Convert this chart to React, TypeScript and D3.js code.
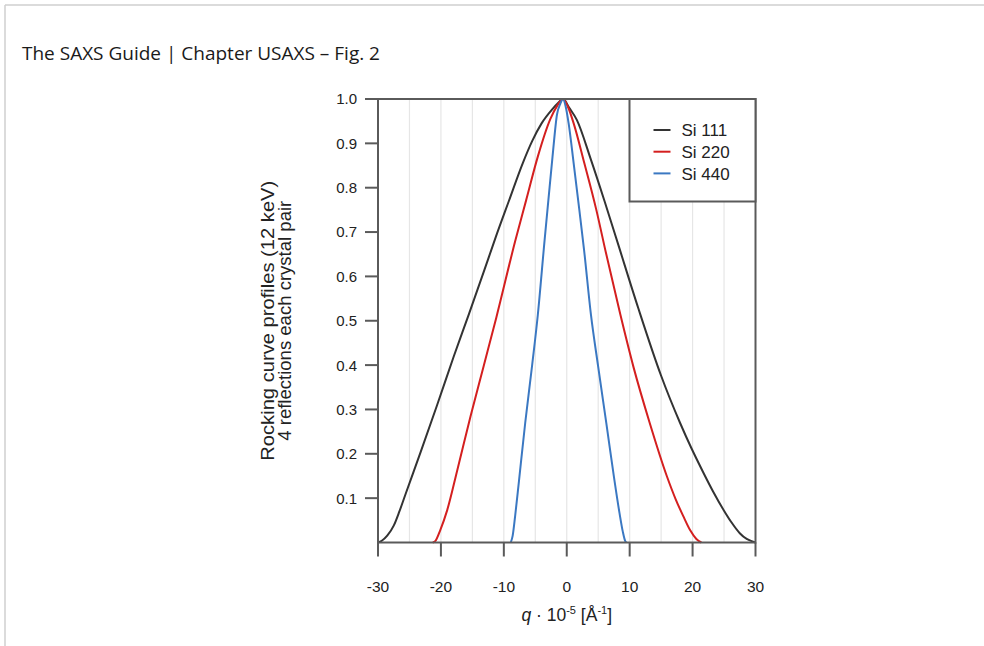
import * as d3 from "d3";

// Rocking curve profiles, q in 10^-5 1/A, normalised intensity
const si111Q = [-30, -29.4, -28.5, -27.5, -26.6, -25.6, -23.2, -20.6, -17.95, -15.55, -13.1, -11.3, -9.2, -7.0, -5.5, -4.0, -2.35, -1.3, -0.6, 0.4, 1.6, 3.8, 6.0, 8.2, 11.4, 15.0, 18.0, 19.8, 21.7, 23.3, 24.9, 26.2, 27.5, 28.6, 29.6, 30];
const si111I = [0, 0.004, 0.016, 0.038, 0.07, 0.11, 0.205, 0.31, 0.42, 0.515, 0.614, 0.688, 0.77, 0.855, 0.905, 0.945, 0.976, 0.992, 1.0, 0.98, 0.953, 0.865, 0.77, 0.671, 0.527, 0.376, 0.27, 0.213, 0.158, 0.114, 0.074, 0.045, 0.021, 0.008, 0.002, 0];

const si220Q = [-21.3, -20.9, -20.1, -19.0, -17.4, -15.3, -13.2, -11.2, -8.15, -6.45, -4.6, -2.6, -1.5, -0.6, 0.2, 1.1, 2.8, 4.7, 6.2, 8.5, 10.6, 13.2, 15.9, 17.3, 18.5, 19.6, 20.6, 21.4];
const si220I = [0, 0.003, 0.028, 0.073, 0.163, 0.284, 0.398, 0.507, 0.682, 0.772, 0.87, 0.955, 0.985, 1.0, 0.982, 0.945, 0.855, 0.75, 0.655, 0.515, 0.396, 0.269, 0.15, 0.098, 0.06, 0.028, 0.008, 0];

const si440Q = [-8.9, -8.6, -8.2, -7.6, -6.6, -5.5, -4.6, -3.52, -2.92, -2.26, -1.55, -1.0, -0.6, -0.2, 0.3, 1.1, 2.0, 2.75, 3.85, 5.0, 6.3, 7.5, 8.4, 8.9, 9.3, 9.5];
const si440I = [0, 0.015, 0.06, 0.138, 0.27, 0.4, 0.513, 0.682, 0.772, 0.87, 0.965, 0.99, 1.0, 0.985, 0.945, 0.855, 0.75, 0.66, 0.513, 0.396, 0.268, 0.148, 0.065, 0.025, 0.003, 0];

const seriesNames = ["Si 111", "Si 220", "Si 440"];
const seriesColors = ["#333333", "#d41f1f", "#3b78c2"];

const xTicks = [-30, -20, -10, 0, 10, 20, 30];
const yTicks = [0.1, 0.2, 0.3, 0.4, 0.5, 0.6, 0.7, 0.8, 0.9, 1.0];
const gridTicks = [-25, -20, -15, -10, -5, 0, 5, 10, 15, 20, 25];

export default function App() {
  const width = 984;
  const height = 646;
  const margin = { top: 99, right: 228.5, bottom: 103.5, left: 378 };
  const bottomY = height - margin.bottom;

  const x = d3.scaleLinear().domain([-30, 30]).range([margin.left, width - margin.right]);
  const y = d3.scaleLinear().domain([0, 1]).range([bottomY, margin.top]);

  const line = d3
    .line<[number, number]>()
    .x(d => x(d[0]))
    .y(d => y(d[1]))
    .curve(d3.curveMonotoneX);

  const series = [
    d3.zip(si111Q, si111I) as [number, number][],
    d3.zip(si220Q, si220I) as [number, number][],
    d3.zip(si440Q, si440I) as [number, number][],
  ];

  const axisColor = "#5a5a5a";
  const font = "'Liberation Sans', Arial, sans-serif";

  // legend box
  const legX = 629.5;
  const legW = x(30) - legX;
  const legH = 102.5;

  return (
    <svg
      width={width}
      height={height}
      style={{ position: "absolute", left: 0, top: 0, background: "#fff" }}
    >
      {/* page frame */}
      <line x1={5} x2={width} y1={5} y2={5} stroke="#cfcfcf" strokeWidth={1.5} />
      <line x1={5} x2={5} y1={5} y2={height} stroke="#cfcfcf" strokeWidth={1.5} />

      {/* title */}
      <text
        x={22}
        y={60}
        fontSize="18"
        fill="#1a1a1a"
        fontFamily="'Open Sans', sans-serif"
        textLength={358}
        lengthAdjust="spacingAndGlyphs"
      >
        The SAXS Guide | Chapter USAXS – Fig. 2
      </text>

      {/* vertical grid */}
      {gridTicks.map(t => (
        <line
          key={t}
          x1={x(t)}
          x2={x(t)}
          y1={margin.top}
          y2={bottomY}
          stroke="#e6e6e6"
          strokeWidth={1.2}
        />
      ))}

      {/* curves */}
      {series.map((s, i) => (
        <path
          key={i}
          d={line(s) ?? ""}
          fill="none"
          stroke={seriesColors[i]}
          strokeWidth={2}
        />
      ))}

      {/* frame */}
      <rect
        x={margin.left}
        y={margin.top}
        width={x(30) - margin.left}
        height={bottomY - margin.top}
        fill="none"
        stroke={axisColor}
        strokeWidth={2}
      />

      {/* y ticks */}
      {yTicks.map(t => (
        <g key={t}>
          <line x1={margin.left - 13} x2={margin.left} y1={y(t)} y2={y(t)} stroke={axisColor} strokeWidth={2} />
          <text
            x={margin.left - 21}
            y={y(t)}
            dy="0.36em"
            textAnchor="end"
            fontSize="15"
            fill="#222"
            fontFamily={font}
          >
            {t.toFixed(1)}
          </text>
        </g>
      ))}

      {/* x ticks */}
      {xTicks.map(t => (
        <g key={t}>
          <line x1={x(t)} x2={x(t)} y1={bottomY} y2={bottomY + 14} stroke={axisColor} strokeWidth={2} />
          <text
            x={x(t)}
            y={bottomY + 49}
            textAnchor="middle"
            fontSize="15.5"
            fill="#222"
            fontFamily={font}
          >
            {t}
          </text>
        </g>
      ))}

      {/* x axis label */}
      <text
        x={x(0)}
        y={bottomY + 78}
        textAnchor="middle"
        fontSize="17.5"
        fill="#222"
        fontFamily={font}
      >
        <tspan fontStyle="italic">q</tspan>
        <tspan> · 10</tspan>
        <tspan fontSize="11" dy="-7">-5</tspan>
        <tspan dy="7"> [Å</tspan>
        <tspan fontSize="11" dy="-7">-1</tspan>
        <tspan dy="7">]</tspan>
      </text>

      {/* y axis label */}
      <g transform={`translate(274, ${(margin.top + bottomY) / 2}) rotate(-90)`}>
        <text
          textAnchor="middle"
          fontSize="18"
          fill="#222"
          fontFamily={font}
          textLength={280}
          lengthAdjust="spacingAndGlyphs"
        >
          Rocking curve profiles (12 keV)
        </text>
        <text
          y={17}
          textAnchor="middle"
          fontSize="18"
          fill="#222"
          fontFamily={font}
          textLength={240}
          lengthAdjust="spacingAndGlyphs"
        >
          4 reflections each crystal pair
        </text>
      </g>

      {/* legend */}
      <rect
        x={legX}
        y={margin.top}
        width={legW}
        height={legH}
        fill="#fff"
        stroke={axisColor}
        strokeWidth={2}
      />
      {seriesNames.map((name, i) => (
        <g key={name} transform={`translate(${legX}, ${130 + i * 21.7})`}>
          <line x1={24} x2={41} y1={0} y2={0} stroke={seriesColors[i]} strokeWidth={2} />
          <text x={52} dy="0.36em" fontSize="17" fill="#222" fontFamily={font}>
            {name}
          </text>
        </g>
      ))}
    </svg>
  );
}
